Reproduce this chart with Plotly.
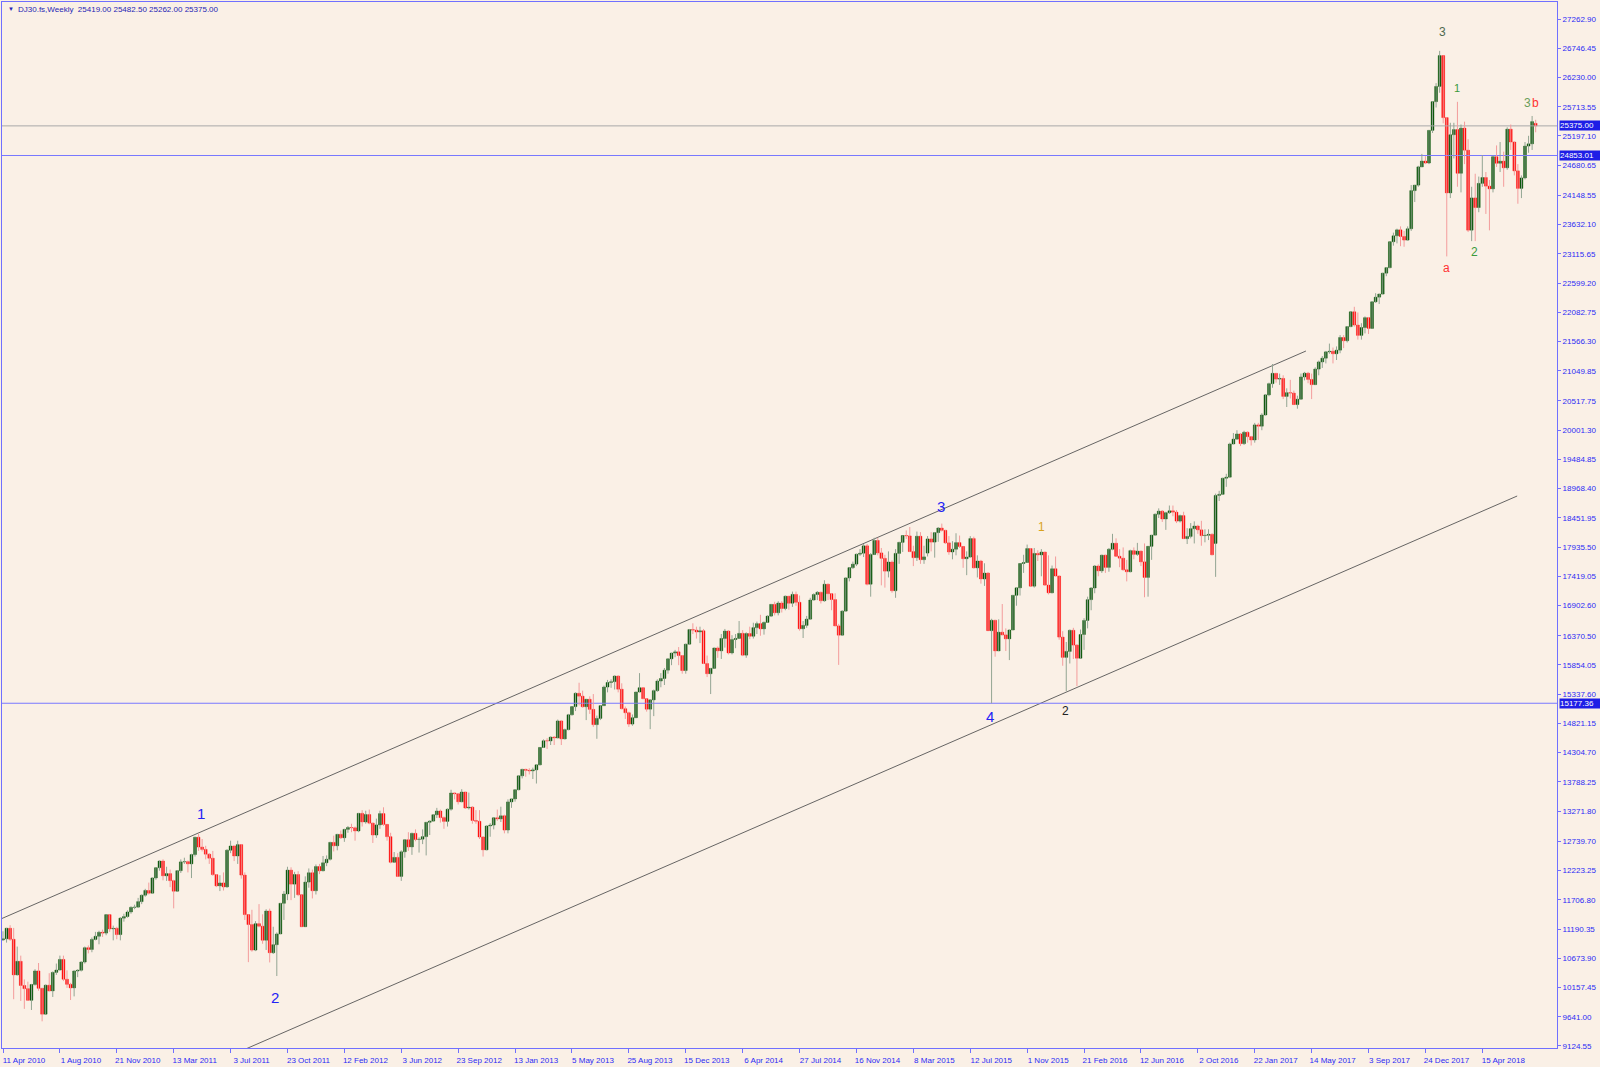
import plotly.graph_objects as go

# ---------------- weekly OHLC (bar index 0 = week of 11 Apr 2010) ----------------
O10 = [10997,11018,11204,11009,10380,10620,10193,10137,9931,10211,10450,10143,9686,10198,10097,10424,10466,10653,10303,10213,10150,10448,10462,10607,10860,10829,11006,11062,11133,11118,11444,11192,11203,11092,11382,11410,11491,11573]
H10 = [11150,11210,11258,11210,10880,10720,10300,10260,10220,10480,10590,10150,10210,10410,10440,10580,10720,10720,10460,10240,10460,10480,10620,10880,10900,11040,11140,11160,11180,11450,11450,11250,11230,11400,11460,11520,11590,11620]
L10 = [10980,10950,10980,9950,10370,9920,9780,9920,9760,10190,10100,9560,9680,10090,9990,10380,10460,10270,10150,9936,10000,10340,10440,10580,10760,10780,10990,10920,11050,11080,11140,10990,11010,10990,11320,11390,11460,11540]
C10 = [11018,11204,11009,10380,10620,10193,10137,9931,10211,10450,10143,9686,10198,10097,10424,10466,10653,10303,10213,10150,10448,10462,10607,10860,10829,11006,11062,11133,11118,11444,11192,11203,11092,11382,11410,11491,11573,11577]

O11 = [11577,11674,11787,11871,11823,12092,12273,12391,12130,12169,12044,11858,12220,12376,12380,12341,12505,12811,12638,12596,12512,12441,12151,11952,12004,11934,12582,12657,12480,12681,12143,11445,11269,10818,11285,11240,10992,11509,10771,10913,11103,11644,11809,12231,11983,12153,11796,11231,12019,12184,11866,12294]
H11 = [11740,11800,11900,12010,12100,12280,12400,12420,12290,12240,12060,12230,12420,12450,12400,12520,12820,12876,12780,12660,12530,12570,12160,12140,12190,12600,12750,12660,12750,12690,12190,11450,11530,11330,11630,11450,11540,11550,11230,11130,11650,11860,12290,12280,12200,12210,11800,12120,12260,12240,12330,12340]
L11 = [11570,11630,11760,11800,11820,12060,12220,12050,12040,11930,11555,11850,12180,12340,12190,12090,12470,12570,12560,12420,12340,12130,11930,11860,11870,11920,12530,12390,12340,12080,11350,10605,10790,10800,11220,10930,10820,10600,10750,10360,11100,11350,11700,11700,11740,11770,11230,11230,11920,11730,11800,12160]
C11 = [11674,11787,11871,11823,12092,12273,12391,12130,12169,12044,11858,12220,12376,12380,12341,12505,12811,12638,12596,12512,12441,12151,11952,12004,11934,12582,12657,12480,12681,12143,11445,11269,10818,11285,11240,10992,11509,10771,10913,11103,11644,11809,12231,11983,12153,11796,11231,12019,12184,11866,12294,12218]

O12 = [12218,12360,12422,12720,12660,12862,12801,12950,12983,12978,12922,13233,13081,13212,13060,12850,13029,13229,13038,12821,12369,12455,12119,12554,12767,12640,12880,12772,12777,12822,13075,13096,13208,13275,13158,13091,13306,13593,13579,13437,13610,13328,13343,13107,13093,12815,12588,13010,13026,13155,13135,13190]
H12 = [12480,12490,12730,12840,12870,12930,12960,13010,13050,13000,13240,13290,13280,13300,13070,13140,13280,13340,13040,12890,12550,12530,12580,12780,12900,12890,12950,12810,12950,13080,13110,13220,13330,13300,13180,13320,13650,13600,13590,13660,13610,13600,13360,13290,13290,12830,13020,13060,13160,13300,13350,13210]
L12 = [12210,12300,12400,12560,12580,12780,12730,12890,12900,12750,12900,13000,13050,13040,12710,12800,12960,13010,12750,12350,12360,12110,12040,12450,12570,12500,12740,12540,12690,12490,12850,13090,13150,13070,12960,13000,13280,13480,13390,13430,13310,13300,13050,13050,12780,12470,12580,12820,12950,13100,13080,12880]
C12 = [12360,12422,12720,12660,12862,12801,12950,12983,12978,12922,13233,13081,13212,13060,12850,13029,13229,13038,12821,12369,12455,12119,12554,12767,12640,12880,12772,12777,12822,13075,13096,13208,13275,13158,13091,13306,13593,13579,13437,13610,13328,13343,13107,13093,12815,12588,13010,13026,13155,13135,13190,12938]

O13 = [12938,13435,13488,13650,13896,14010,13993,13982,14001,14090,14397,14515,14512,14579,14565,14865,14548,14712,14974,15118,15354,15303,15116,15248,15070,14800,14910,15135,15464,15544,15559,15658,15426,15081,15010,14810,14922,15376,15452,15258,15073,15237,15400,15570,15615,15762,15962,16064,16086,16020,15755,16221]
H13 = [13480,13490,13660,13900,14020,14020,14030,14040,14100,14400,14540,14560,14590,14600,14890,14870,14730,14990,15120,15370,15540,15400,15250,15300,15340,14960,15140,15490,15590,15600,15670,15670,15530,15120,15030,14980,15380,15710,15460,15260,15250,15420,15600,15710,15800,15970,16070,16120,16170,16030,16230,16490]
L13 = [12880,13330,13440,13640,13850,13880,13920,13840,13760,14080,14390,14370,14440,14440,14560,14440,14540,14700,14960,15040,15140,15100,14880,14990,14760,14550,14880,15130,15370,15450,15420,15370,15070,14900,14760,14780,14920,15370,15250,15030,14720,14950,15380,15460,15500,15700,15850,15990,15850,15700,15700,16210]
C13 = [13435,13488,13650,13896,14010,13993,13982,14001,14090,14397,14515,14512,14579,14565,14865,14548,14712,14974,15118,15354,15303,15116,15248,15070,14800,14910,15135,15464,15544,15559,15658,15426,15081,15010,14810,14922,15376,15452,15258,15073,15237,15400,15570,15615,15762,15962,16064,16086,16020,15755,16221,16479]

O14 = [16479,16469,16437,16458,15879,15699,15794,16154,16103,16322,16453,16066,16303,16323,16412,16027,16409,16361,16513,16584,16491,16606,16717,16924,16776,16948,16851,17068,16944,17100,16961,16493,16553,16663,17001,17098,17137,16988,17280,17113,17009,16544,16380,16805,17391,17573,17635,17810,17828,17958,17280,17804]
H14 = [16590,16530,16530,16490,16020,15800,16160,16180,16400,16490,16470,16380,16400,16630,16470,16430,16530,16600,16620,16740,16620,16730,16930,16970,16980,16980,17080,17070,17150,17150,17080,16630,16720,17040,17120,17160,17150,17350,17290,17120,17120,16580,16820,17400,17580,17680,17820,17900,17990,17990,17830,18100]
L14 = [16400,16320,16240,15870,15640,15340,15790,15980,15960,16160,16040,16040,16150,16320,16010,15980,16310,16320,16400,16370,16390,16600,16700,16730,16730,16780,16820,16830,16880,16900,16460,16330,16510,16650,16990,17000,16940,16970,17000,16820,16540,15855,16370,16800,17330,17550,17600,17780,17760,17260,17060,17800]
C14 = [16469,16437,16458,15879,15699,15794,16154,16103,16322,16453,16066,16303,16323,16412,16027,16409,16361,16513,16584,16491,16606,16717,16924,16776,16948,16851,17068,16944,17100,16961,16493,16553,16663,17001,17098,17137,16988,17280,17113,17009,16544,16380,16805,17391,17573,17635,17810,17828,17958,17280,17804,18053]

O15 = [18053,17833,17737,17511,17672,17165,17824,18019,18140,18133,17856,17749,18128,17713,17830,18080,18024,18191,18272,18232,18011,17849,17898,18015,17947,17730,17760,18086,17569,17690,17373,17477,16460,16643,16102,16433,16385,16315,16472,17084,17216,17646,17664,17910,17245,17824,17798,17848,17265,17128,17553]
H15 = [18100,17920,17800,17860,17700,17900,18030,18140,18230,18290,17960,18210,18200,17960,18130,18200,18200,18290,18351,18240,18130,18040,18180,18140,17950,17860,18130,18120,17790,17710,17650,17490,16670,16650,16660,16930,16500,16480,17090,17220,17650,17800,17980,17920,17920,17880,17900,17850,17790,17610,17770]
L15 = [17790,17260,17220,17400,17130,17040,17640,17850,18080,17850,17600,17690,17640,17640,17770,17860,17750,18030,18210,17990,17800,17720,17790,17920,17570,17440,17750,17560,17400,17290,17250,16460,15177,16000,16100,16380,16100,15940,16470,16900,17080,17480,17660,17240,17220,17690,17420,17250,17100,17120,17420]
C15 = [17833,17737,17511,17672,17165,17824,18019,18140,18133,17856,17749,18128,17713,17763,18080,18024,18191,18272,18232,18011,17849,17898,18015,17947,17730,17760,18086,17569,17690,17373,17477,16460,16643,16102,16433,16385,16315,16472,17084,17216,17646,17664,17910,17245,17824,17798,17848,17265,17128,17553,17425]

O16 = [17425,16346,15988,16093,16466,16205,15973,16392,16640,17007,17213,17602,17516,17793,17577,17898,18004,17774,17740,17535,17500,17873,17807,17865,17675,17400,17949,18147,18516,18571,18432,18543,18577,18553,18395,18492,18085,18124,18261,18308,18240,18138,18145,18161,18000,18848,18868,19152,19171,19757,19843,19934]
H16 = [17430,16450,16260,16480,16510,16220,16480,16680,17060,17230,17620,17630,17800,17800,17920,18170,18090,17900,17930,17710,17890,17930,18010,17870,18000,17950,18150,18530,18620,18590,18560,18670,18670,18590,18510,18560,18270,18360,18390,18330,18400,18250,18250,18180,18880,18930,19160,19230,19780,19950,20000,19950]
L16 = [16300,15840,15390,15880,15960,15480,15960,16120,16500,16820,17120,17420,17480,17480,17500,17880,17770,17580,17520,17330,17490,17720,17780,17600,17050,17060,17710,18140,18450,18380,18240,18520,18480,18360,18370,18080,17990,18090,18000,18170,17960,18020,18060,17790,17410,18750,18860,19000,19170,19750,19830,19720]
C16 = [16346,15988,16093,16466,16205,15973,16392,16640,17007,17213,17602,17516,17793,17577,17898,18004,17774,17740,17535,17500,17873,17807,17865,17675,17400,17949,18147,18516,18571,18432,18543,18577,18553,18395,18492,18085,18124,18261,18308,18240,18138,18145,18161,17800,18848,18868,19152,19171,19757,19843,19934,19763]

O17 = [19763,19964,19886,19827,20094,20071,20269,20624,20822,21005,20903,20915,20597,20663,20656,20453,20548,20941,21007,20897,20805,21080,21206,21272,21384,21395,21350,21414,21638,21580,21830,22092,21858,21675,21814,21988,21798,22268,22350,22405,22774,22871,23329,23434,23539,23422,23358,23558,24232,24329,24651,24754]
H17 = [19990,19980,19900,20130,20130,20300,20640,20840,21169,21010,21000,20970,20740,20890,20700,20610,21000,21030,21030,21000,21110,21230,21310,21400,21530,21460,21480,21680,21680,21840,22100,22180,22080,21890,22010,22000,22280,22420,22410,22780,22880,23330,23490,23560,23600,23520,23600,24330,24330,24670,24880,24840]
L17 = [19740,19780,19730,19780,19830,20000,20260,20600,20750,20840,20800,20550,20410,20560,20450,20380,20540,20880,20830,20550,20800,20970,21100,21180,21350,21180,21240,21360,21450,21550,21820,21830,21600,21600,21710,21700,21790,22250,22230,22400,22720,22860,23260,23300,23250,23240,23350,23520,24030,24300,24650,24700]
C17 = [19964,19886,19827,20094,20071,20269,20624,20822,21005,20903,20915,20597,20663,20656,20453,20548,20941,21007,20897,20805,21080,21206,21272,21384,21395,21350,21414,21638,21580,21830,22092,21858,21675,21814,21988,21798,22268,22350,22405,22774,22871,23329,23434,23539,23422,23358,23558,24232,24329,24651,24754,24719]

O18 = [24719,25296,25803,26072,26617,25521,24191,25219,25310,24538,25336,24946,23533,24103,23933,24360,24463,24311,24263,24831,24715,24753,24635,25317,25090,24581,24271,24456,25019,25058,25419]
H18 = [25300,25810,26130,26700,26620,25530,25430,25430,25800,25400,25450,25140,24300,24530,24480,24860,24560,24420,24850,25030,25090,24920,25350,25400,25100,24700,24500,25090,25200,25550,25482.5]
L18 = [24700,25250,25700,25960,25420,23070,24100,24800,24300,24200,24700,23500,23340,23340,23850,24300,23820,23530,24200,24650,24560,24300,24600,24950,24500,24000,24100,24430,24900,24950,25262]
C18 = [25296,25803,26072,26617,25521,24191,25219,25310,24538,25336,24946,23533,24103,23933,24360,24463,24311,24263,24831,24715,24753,24635,25317,25090,24581,24271,24456,25019,25058,25451,25375]

open_ = O10 + O11 + O12 + O13 + O14 + O15 + O16 + O17 + O18
high_ = H10 + H11 + H12 + H13 + H14 + H15 + H16 + H17 + H18
low_ = L10 + L11 + L12 + L13 + L14 + L15 + L16 + L17 + L18
close_ = C10 + C11 + C12 + C13 + C14 + C15 + C16 + C17 + C18

# x-axis labels: one every 16 weekly bars
date_labels = ["11 Apr 2010", "1 Aug 2010", "21 Nov 2010", "13 Mar 2011", "3 Jul 2011", "23 Oct 2011",
               "12 Feb 2012", "3 Jun 2012", "23 Sep 2012", "13 Jan 2013", "5 May 2013", "25 Aug 2013",
               "15 Dec 2013", "6 Apr 2014", "27 Jul 2014", "16 Nov 2014", "8 Mar 2015", "12 Jul 2015",
               "1 Nov 2015", "21 Feb 2016", "12 Jun 2016", "2 Oct 2016", "22 Jan 2017", "14 May 2017",
               "3 Sep 2017", "24 Dec 2017", "15 Apr 2018"]
date_label_bars = [16 * k for k in range(len(date_labels))]

price_ticks = [27262.90, 26746.45, 26230.00, 25713.55, 25197.10, 24680.65, 24148.55, 23632.10, 23115.65,
               22599.20, 22082.75, 21566.30, 21049.85, 20517.75, 20001.30, 19484.85, 18968.40, 18451.95,
               17935.50, 17419.05, 16902.60, 16370.50, 15854.05, 15337.60, 14821.15, 14304.70, 13788.25,
               13271.80, 12739.70, 12223.25, 11706.80, 11190.35, 10673.90, 10157.45, 9641.00, 9124.55]

# horizontal price levels
current_price = 25375.00
level_lines = [24853.01, 15177.36]

# channel trendlines (anchor bar index, price)
upper_channel_bars = [-1.0, 366.4]
upper_channel_vals = [11357, 21399]
lower_channel_bars = [66.0, 425.8]
lower_channel_vals = [9010, 18838]

# Elliott wave labels: (bar, price, text, colour, size)
wave_labels = [
    (55.7, 13239, "1", "#2323F5", 15),
    (76.6, 9989, "2", "#2323F5", 15),
    (263.8, 18644, "3", "#2323F5", 15),
    (277.6, 14935, "4", "#2323F5", 15),
    (291.9, 18291, "1", "#D9A21B", 12),
    (298.9, 15041, "2", "#222222", 12),
    (404.7, 27033, "3", "#4E6A50", 12),
    (408.9, 26044, "1", "#3B9A3B", 11),
    (413.7, 23148, "2", "#3B9A3B", 12),
    (405.9, 22865, "a", "#FF3030", 12),
    (428.7, 25779, "3", "#6A9E5A", 12),
    (431.0, 25779, "b", "#FF3030", 12),
]

# ---------------- styling ----------------
BG = "#FAF0E6"
AXIS = "#7070FF"
TXT = "#2B2BF5"
BULL_BODY, BULL_WICK = "#005000", "#93A593"
BEAR_BODY, BEAR_WICK = "#FF0000", "#F39C9C"
FONT = "Liberation Sans"

n = len(close_)
bars = list(range(n))
bull = [i for i in bars if close_[i] >= open_[i]]
bear = [i for i in bars if close_[i] < open_[i]]


def wicks(ids):
    xs, ys = [], []
    for i in ids:
        xs += [i, i, None]
        ys += [low_[i], high_[i], None]
    return xs, ys


fig = go.Figure()

# trendlines
fig.add_trace(go.Scatter(x=upper_channel_bars, y=upper_channel_vals, mode="lines",
                         line=dict(color="#555555", width=0.9), hoverinfo="skip"))
fig.add_trace(go.Scatter(x=lower_channel_bars, y=lower_channel_vals, mode="lines",
                         line=dict(color="#555555", width=0.9), hoverinfo="skip"))

# horizontal lines
xr = [-2, 440]
fig.add_trace(go.Scatter(x=xr, y=[current_price] * 2, mode="lines",
                         line=dict(color="#A8A8A8", width=1), hoverinfo="skip"))
for lv in level_lines:
    fig.add_trace(go.Scatter(x=xr, y=[lv] * 2, mode="lines",
                             line=dict(color="#7878FF", width=1.1), hoverinfo="skip"))

# wicks
wx, wy = wicks(bull)
fig.add_trace(go.Scatter(x=wx, y=wy, mode="lines", line=dict(color=BULL_WICK, width=1), hoverinfo="skip"))
wx, wy = wicks(bear)
fig.add_trace(go.Scatter(x=wx, y=wy, mode="lines", line=dict(color=BEAR_WICK, width=1), hoverinfo="skip"))

# bodies
fig.add_trace(go.Bar(x=bull, base=[open_[i] for i in bull], y=[close_[i] - open_[i] for i in bull],
                     width=0.8, marker=dict(color=BULL_BODY, line=dict(color=BULL_BODY, width=0.4))))
fig.add_trace(go.Bar(x=bear, base=[open_[i] for i in bear], y=[close_[i] - open_[i] for i in bear],
                     width=0.8, marker=dict(color=BEAR_BODY, line=dict(color=BEAR_BODY, width=0.4))))

annotations = []
for b, v, t, c, s in wave_labels:
    annotations.append(dict(x=b, y=v, xref="x", yref="y", text=t, showarrow=False,
                            font=dict(family=FONT, size=s, color=c), xanchor="center", yanchor="middle"))

for v in [current_price] + level_lines:
    annotations.append(dict(x=1, y=v, xref="paper", yref="y", text=f"{v:.2f}", showarrow=False,
                            xanchor="left", yanchor="middle", xshift=2, width=40, height=9, align="left",
                            bgcolor="#1E1EE6", borderpad=0,
                            font=dict(family=FONT, size=8, color="white")))

header = f"DJ30.fs,Weekly  {open_[-1]:.2f} {high_[-1]:.2f} {low_[-1]:.2f} {close_[-1]:.2f}"
annotations.append(dict(x=14 / 1555, y=1 - 7 / 1046, xref="paper", yref="paper", text=header,
                        showarrow=False, xanchor="left", yanchor="middle",
                        font=dict(family=FONT, size=8, color="#2525B5")))
annotations.append(dict(x=4 / 1555, y=1 - 7 / 1046, xref="paper", yref="paper", text="▼",
                        showarrow=False, xanchor="left", yanchor="middle",
                        font=dict(family=FONT, size=6, color="#2525B5")))

fig.update_layout(
    width=1600, height=1067,
    paper_bgcolor=BG, plot_bgcolor=BG,
    margin=dict(l=2, r=43, t=2, b=19),
    showlegend=False, barmode="overlay",
    annotations=annotations,
    xaxis=dict(range=[-0.28, 437.0], tickmode="array", tickvals=date_label_bars, ticktext=date_labels,
               showgrid=False, zeroline=False, showline=True, linecolor=AXIS, linewidth=1, mirror=True,
               ticks="outside", ticklen=4, tickcolor=AXIS, ticklabelshift=21,
               tickfont=dict(family=FONT, size=8, color=TXT)),
    yaxis=dict(range=[9088.7, 27563.2], side="right", tickmode="array", tickvals=price_ticks,
               ticktext=[f"{v:.2f}" for v in price_ticks],
               showgrid=False, zeroline=False, showline=True, linecolor=AXIS, linewidth=1, mirror=True,
               ticks="outside", ticklen=3, tickcolor=AXIS,
               tickfont=dict(family=FONT, size=8, color=TXT)),
)

fig.write_html("out.html", config={"displayModeBar": False},
               post_script="document.body.style.margin='0';")
